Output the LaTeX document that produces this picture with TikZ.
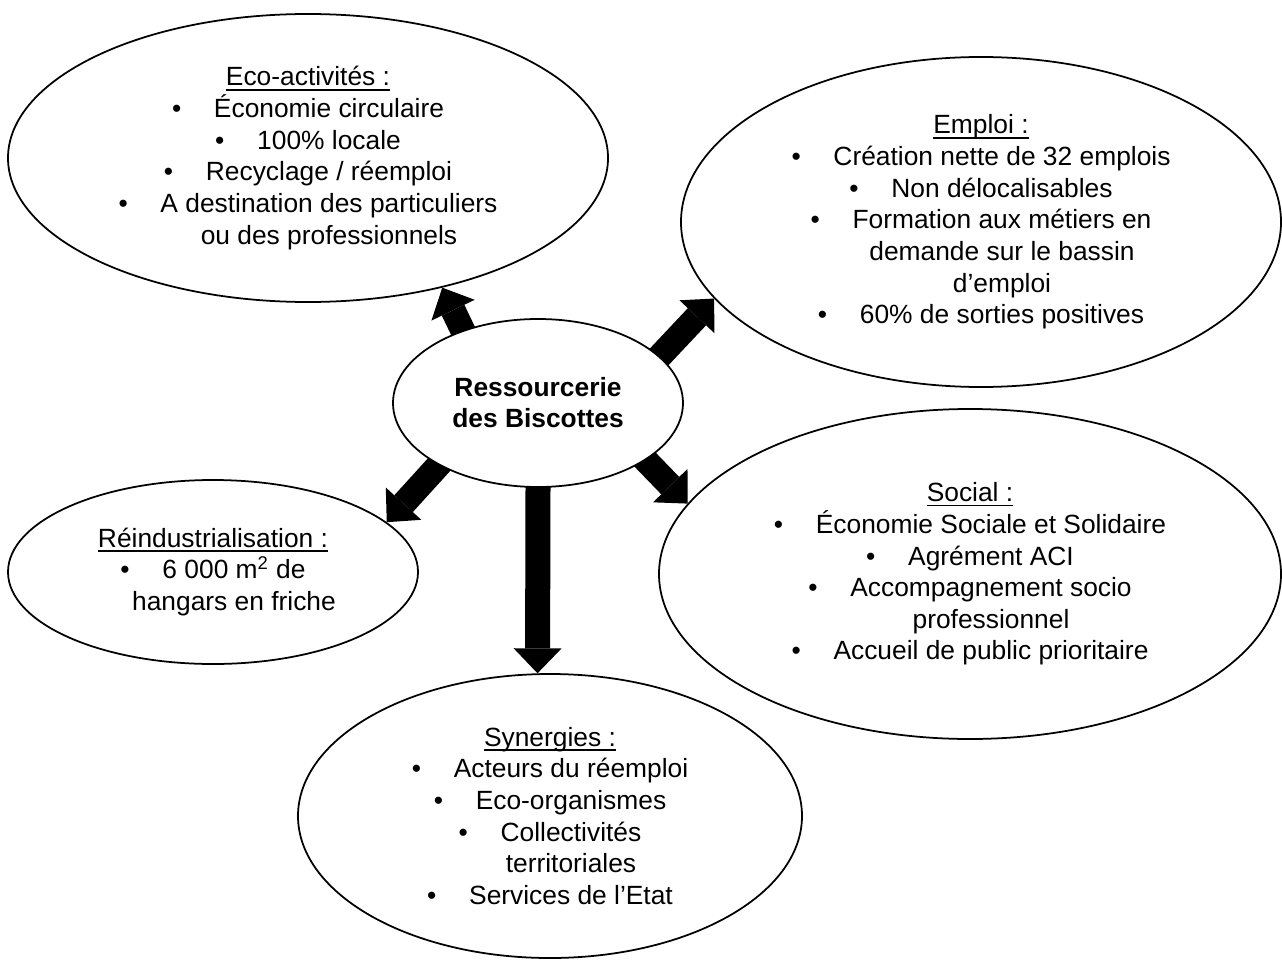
\documentclass[tikz,border=0pt]{standalone}
\usepackage{fontspec}
\setmainfont{Liberation Sans}
\usetikzlibrary{arrows.meta,shapes.geometric,backgrounds}

\newsavebox{\ttlbox}
\newcommand{\ttl}[1]{\sbox{\ttlbox}{#1}\rlap{\rule[-2.7pt]{\wd\ttlbox}{1pt}}\usebox{\ttlbox}}
\newcommand{\itm}[1]{\makebox[0.84cm][l]{\textbullet}#1}
\newcommand{\itmcont}[1]{\hspace*{0.84cm}#1}

\begin{document}
\begin{tikzpicture}

    \tikzstyle{bubble}+=[
        ellipse,
        draw,
        line width = 1pt,
        fill=white,
        inner sep=0pt,
        align=center,
        font=\fontsize{15pt}{18pt}\selectfont
    ]
    \tikzstyle{hub}+=[
        bubble,
        font=\fontsize{15pt}{17.6pt}\selectfont\bfseries
    ]
    \tikzstyle{bigarrow}+=[
        -{Triangle[width=0.96cm,length=0.5cm,line width=0pt]},
        line width = 0.5cm,
        shorten <=-0.3cm
    ]

    \useasboundingbox (0,0) rectangle (25.64,-19.2);

    % ----------------------------------------------------------------------------
    \coordinate(ecopos) at (6.16,-3.16);
    \coordinate(emploipos) at (19.62,-4.44);
    \coordinate(respos) at (10.76,-8.06);
    \coordinate(reindpos) at (4.26,-11.44);
    \coordinate(socialpos) at (19.4,-11.48);
    \coordinate(synpos) at (11.0,-16.32);

    % ----------------------------------------------------------------------------
    \node[hub,minimum width=5.8cm,minimum height=3.36cm] (res) at (respos) {Ressourcerie\\des Biscottes};
    \node[bubble,minimum width=12cm,minimum height=5.76cm] (eco) at (ecopos) {%
        \ttl{Eco-activités :}\\
        \itm{Économie circulaire}\\
        \itm{100\% locale}\\
        \itm{Recyclage / réemploi}\\
        \itm{A destination des particuliers}\\
        \itmcont{ou des professionnels}};
    \node[bubble,minimum width=12cm,minimum height=6.6cm] (emploi) at (emploipos) {%
        \ttl{Emploi :}\\
        \itm{Création nette de 32 emplois}\\
        \itm{Non délocalisables}\\
        \itm{Formation aux métiers en}\\
        \itmcont{demande sur le bassin}\\
        \itmcont{d’emploi}\\
        \itm{60\% de sorties positives}};
    \node[bubble,minimum width=8.2cm,minimum height=3.68cm] (reind) at (reindpos) {%
        \ttl{Réindustrialisation :}\\
        \itm{6 000 m\textsuperscript{2} de}\\
        \itmcont{hangars en friche}};
    \node[bubble,minimum width=12.44cm,minimum height=6.6cm] (social) at (socialpos) {%
        \ttl{Social :}\\
        \itm{Économie Sociale et Solidaire}\\
        \itm{Agrément ACI}\\
        \itm{Accompagnement socio}\\
        \itmcont{professionnel}\\
        \itm{Accueil de public prioritaire}};
    \node[bubble,minimum width=10.08cm,minimum height=5.68cm] (syn) at (synpos) {%
        \ttl{Synergies :}\\
        \itm{Acteurs du réemploi}\\
        \itm{Eco-organismes}\\
        \itm{Collectivités}\\
        \itmcont{territoriales}\\
        \itm{Services de l’Etat}};

    % ----------------------------------------------------------------------------
    \begin{scope}[on background layer]
        \draw[bigarrow] (res.136) -- (eco.-44);
        \draw[bigarrow] (res.21) -- (emploi.196);
        \draw[bigarrow] (res.212) -- (reind.16);
        \draw[bigarrow] (res.-28) -- (social.166);
        \draw[bigarrow] (res.-90) -- (syn.95);
    \end{scope}

\end{tikzpicture}
\end{document}
